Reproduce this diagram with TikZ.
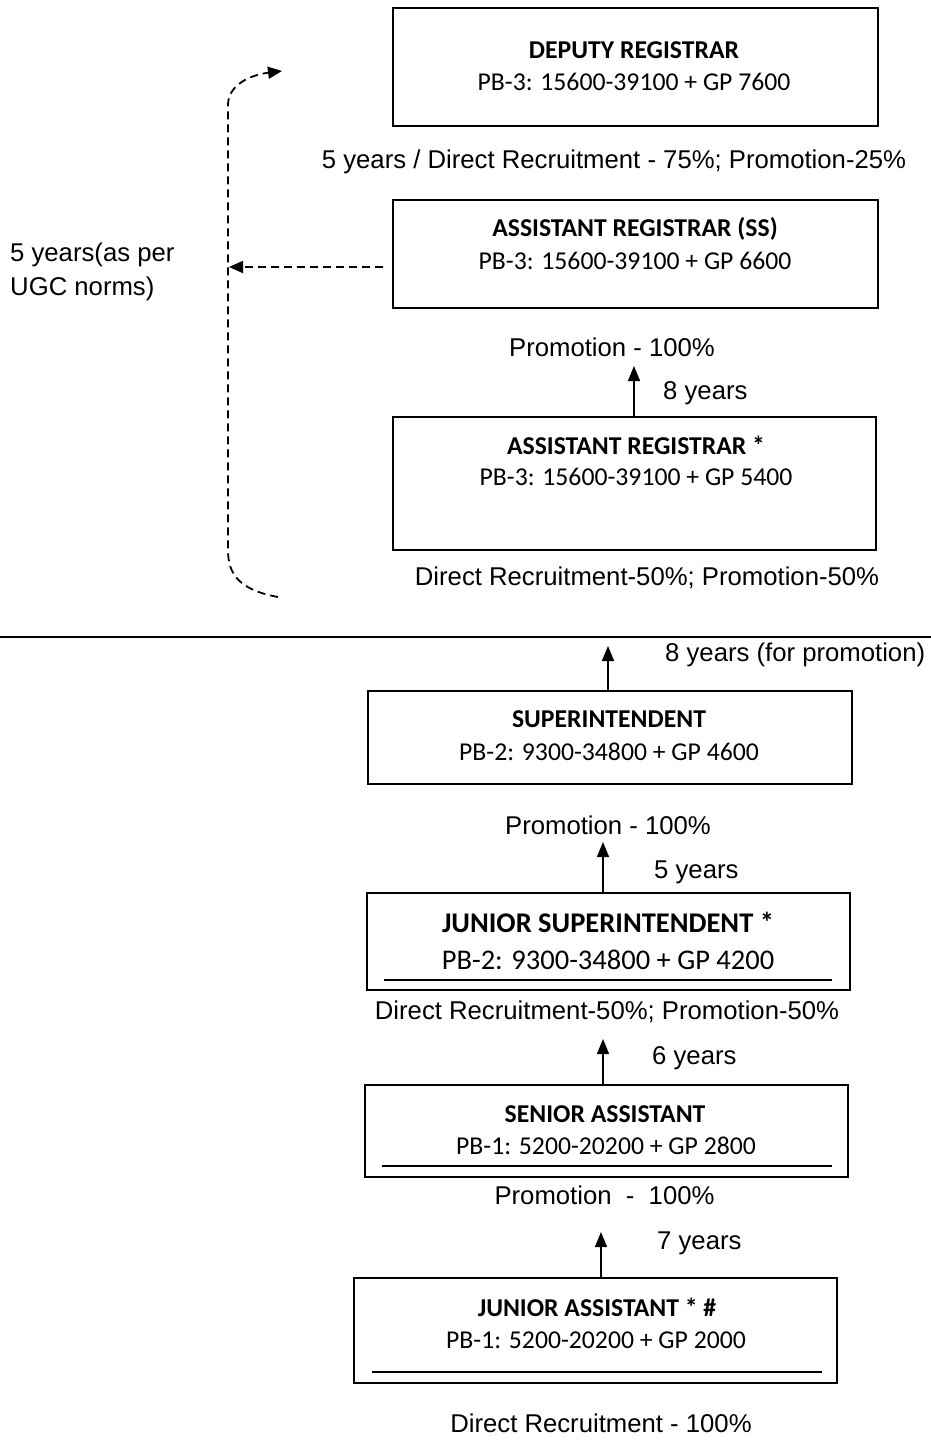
\documentclass[tikz,border=0pt]{standalone}
\usepackage{fontspec}
\setmainfont{Liberation Sans}
\newfontfamily\boxfont{Carlito}
\usetikzlibrary{arrows.meta}
\begin{document}
\begin{tikzpicture}[x=1pt,y=-1pt,
  box/.style={draw, line width=1.6pt, inner sep=0pt},
  lab/.style={font=\fontsize{25.7}{30}\selectfont, inner sep=0pt},
  ttl/.style={font=\boxfont\bfseries\fontsize{25.7}{30}\selectfont, inner sep=0pt},
  pay/.style={font=\boxfont\fontsize{25.7}{30}\selectfont, inner sep=0pt},
  bigttl/.style={font=\boxfont\bfseries\fontsize{28.5}{33}\selectfont, inner sep=0pt},
  bigpay/.style={font=\boxfont\fontsize{28.5}{33}\selectfont, inner sep=0pt},
  up/.style={line width=1.4pt, -{Triangle[length=15pt,width=12pt]}},
  dsh/.style={line width=1.8pt, dash pattern=on 8pt off 5pt, -{Triangle[length=14pt,width=12pt]}},
  uline/.style={line width=1.4pt}]
\useasboundingbox (0,0) rectangle (931,1442);

% boxes
\node[box, minimum width=485pt, minimum height=118pt] (dr)  at (635.5,67)   {};
\node[box, minimum width=485pt, minimum height=108pt] (ars) at (635.5,254)  {};
\node[box, minimum width=483pt, minimum height=133pt] (ar)  at (634.5,483.5){};
\node[box, minimum width=484pt, minimum height=93pt]  (sup) at (610,737.5)  {};
\node[box, minimum width=483pt, minimum height=97pt]  (js)  at (608.5,941.5){};
\node[box, minimum width=483pt, minimum height=92pt]  (sa)  at (606.5,1131) {};
\node[box, minimum width=483pt, minimum height=105pt] (ja)  at (595.5,1330.5){};

% box texts
\node[ttl] (drt) at (634,50) {DEPUTY REGISTRAR};
\node[pay] (drp) at (634,82) {PB-3: 15600-39100 + GP 7600};
\node[ttl] (arst) at (635,229) {ASSISTANT REGISTRAR (SS)};
\node[pay] (arsp) at (635,261) {PB-3: 15600-39100 + GP 6600};
\node[ttl] (art) at (636,445) {ASSISTANT REGISTRAR *};
\node[pay] (arp) at (636,477) {PB-3: 15600-39100 + GP 5400};
\node[ttl] (supt) at (609,719) {SUPERINTENDENT};
\node[pay] (supp) at (609,752) {PB-2: 9300-34800 + GP 4600};
\node[bigttl] (jst) at (608,922) {JUNIOR SUPERINTENDENT *};
\node[bigpay] (jsp) at (608,960) {PB-2: 9300-34800 + GP 4200};
\node[ttl] (sat) at (605,1114) {SENIOR ASSISTANT};
\node[pay] (sap) at (606,1146) {PB-1: 5200-20200 + GP 2800};
\node[ttl] (jat) at (597,1307) {JUNIOR ASSISTANT * \#};
\node[pay] (jap) at (596,1340) {PB-1: 5200-20200 + GP 2000};

% underlines inside boxes
\draw[uline] (384,980) -- (832,980);
\draw[uline] (382,1166) -- (832,1166);
\draw[uline] (372,1372) -- (822,1372);

% labels
\node[lab] (l1) at (614,162) {5 years / Direct Recruitment - 75\%; Promotion-25\%};
\node[lab, anchor=west] (ugc1) at (10,255) {5 years(as per};
\node[lab, anchor=west] (ugc2) at (10,289) {UGC norms)};
\node[lab] (l2) at (612,347) {Promotion - 100\%};
\node[lab, anchor=west] (y8a) at (663,393) {8 years};
\node[lab] (l3) at (647,578) {Direct Recruitment-50\%; Promotion-50\%};
\node[lab, anchor=west] (y8b) at (665,655) {8 years (for promotion)};
\node[lab] (l4) at (608,825) {Promotion - 100\%};
\node[lab, anchor=west] (y5) at (654,872) {5 years};
\node[lab] (l5) at (607,1012) {Direct Recruitment-50\%; Promotion-50\%};
\node[lab, anchor=west] (y6) at (652,1058) {6 years};
\node[lab] (l6) at (604.5,1195) {Promotion\ \ -\ \ 100\%};
\node[lab, anchor=west] (y7) at (657,1243) {7 years};
\node[lab] (l7) at (601,1423) {Direct Recruitment - 100\%};

% divider line
\coordinate (hl) at (0,637);
\coordinate (hr) at (931,637);
\draw[line width=1.6pt] (hl) -- (hr);

% solid arrows
\coordinate (t1) at (634,366);
\draw[up] (ar.north -| t1) -- (t1);
\coordinate (t2) at (608,646);
\draw[up] (sup.north -| t2) -- (t2);
\coordinate (t3) at (603,842);
\draw[up] (js.north -| t3) -- (t3);
\coordinate (t4) at (603,1039);
\draw[up] (sa.north -| t4) -- (t4);
\coordinate (t5) at (601,1232);
\draw[up] (ja.north -| t5) -- (t5);

% dashed arrows
\coordinate (hs) at (383,267);
\coordinate (he) at (229,267);
\draw[dsh] (hs) -- (he);
\coordinate (cb) at (278,597);
\coordinate (ct) at (282,71);
\draw[dsh] (cb) .. controls (240,590) and (228,575) .. (228,550) -- (228,105) .. controls (228,85) and (250,75) .. (ct);
\end{tikzpicture}
\end{document}
